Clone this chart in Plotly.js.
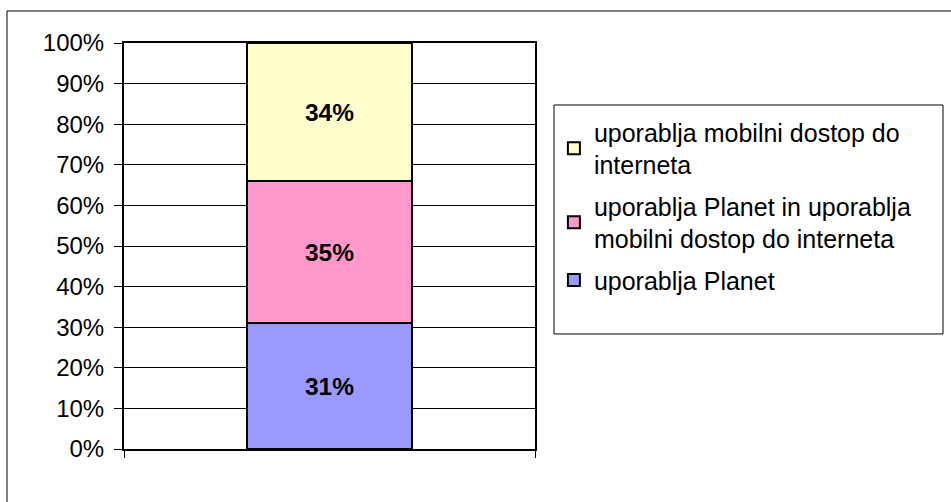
<!DOCTYPE html>
<html>
<head>
<meta charset="utf-8">
<script src="https://cdn.plot.ly/plotly-3.0.1.min.js"></script>
<style>html,body{margin:0;padding:0;background:#fff}#chart{width:951px;height:502px}</style>
</head>
<body>
<div id="chart"></div>
<script>
const categories = ['vsi'];
const seriesNames = [
  'uporablja Planet',
  'uporablja Planet in uporablja<br>mobilni dostop do interneta',
  'uporablja mobilni dostop do<br>interneta'
];
const planetValues = [31];
const bothValues = [35];
const mobileValues = [34];
const seriesColors = ['#9999FF', '#FF99CC', '#FFFFCC'];
const yTickValues = [0, 10, 20, 30, 40, 50, 60, 70, 80, 90, 100];

const FONT = 'Liberation Sans, Arial, sans-serif';
const allValues = [planetValues, bothValues, mobileValues];

const traces = allValues.map((vals, i) => ({
  type: 'bar',
  x: categories,
  y: vals,
  name: seriesNames[i],
  legendgroup: 'g' + i,
  legendrank: 3 - i,
  width: 0.4,
  marker: {color: seriesColors[i], line: {color: '#000', width: 2}},
  texttemplate: '<b>%{y}%</b>',
  textposition: 'inside',
  insidetextanchor: 'middle',
  textangle: 0,
  constraintext: 'none',
  textfont: {family: FONT, size: 24.5, color: '#000'},
  hoverinfo: 'skip'
}));

const layout = {
  width: 951,
  height: 502,
  margin: {l: 124, r: 416, t: 43, b: 53},
  paper_bgcolor: '#fff',
  plot_bgcolor: '#fff',
  barmode: 'stack',
  showlegend: true,
  font: {family: FONT, size: 24, color: '#000'},
  xaxis: {
    type: 'category',
    range: [-0.5, 0.5],
    showticklabels: false,
    ticks: 'outside',
    tickson: 'boundaries',
    ticklen: 7,
    tickwidth: 1,
    tickcolor: '#000',
    showgrid: false,
    showline: true,
    linecolor: '#000',
    linewidth: 2,
    mirror: true,
    zeroline: false,
    fixedrange: true
  },
  yaxis: {
    range: [0, 100],
    tickvals: yTickValues,
    ticktext: yTickValues.map(v => v + '%'),
    ticks: 'outside',
    ticklen: 8,
    tickwidth: 1,
    tickcolor: '#000',
    ticklabelstandoff: 5,
    tickfont: {family: FONT, size: 24, color: '#000'},
    showgrid: true,
    gridcolor: '#000',
    gridwidth: 1,
    showline: true,
    linecolor: '#000',
    linewidth: 2,
    mirror: true,
    zeroline: false,
    fixedrange: true
  },
  legend: {
    x: 1.046,
    xanchor: 'left',
    y: 0.837,
    yanchor: 'top',
    traceorder: 'grouped',
    tracegroupgap: 6,
    bgcolor: 'rgba(0,0,0,0)',
    borderwidth: 0,
    font: {family: FONT, size: 25, color: '#000'},
    itemclick: false,
    itemdoubleclick: false
  },
  shapes: [
    {type: 'rect', xref: 'paper', yref: 'paper', x0: -0.2847, x1: 2.05, y0: -0.2, y1: 1.0788,
     line: {color: '#000', width: 1}, fillcolor: 'rgba(0,0,0,0)', layer: 'below'},
    {type: 'rect', xref: 'paper', yref: 'paper', x0: 1.0462, x1: 1.9927, y0: 0.2833, y1: 0.8473,
     line: {color: '#000', width: 1}, fillcolor: '#fff', layer: 'below'}
  ]
};

Plotly.newPlot('chart', traces, layout, {displayModeBar: false, staticPlot: true});
</script>
</body>
</html>
